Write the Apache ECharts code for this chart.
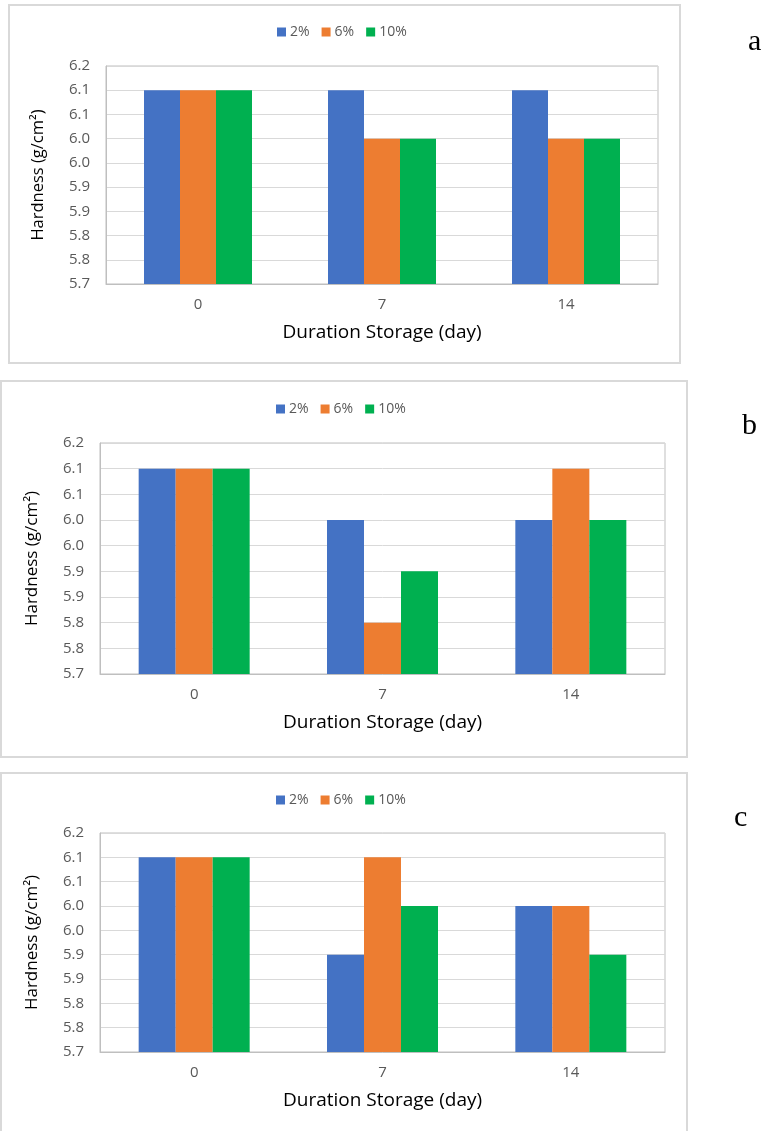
<!DOCTYPE html>
<html>
<head>
<meta charset="utf-8">
<script src="https://cdn.jsdelivr.net/npm/echarts@6/dist/echarts.min.js"></script>
<style>
html,body{margin:0;padding:0;background:#fff;}
#main{width:767px;height:1131px;}
</style>
</head>
<body>
<div id="main"></div>
<script>
// ---- data ----
const categories = ['0', '7', '14'];
const seriesNames = ['2%', '6%', '10%'];
const yTickLabels = ['5.7', '5.8', '5.8', '5.9', '5.9', '6.0', '6.0', '6.1', '6.1', '6.2'];
const yMin = 5.75, yMax = 6.2, yStep = 0.05;

const panelA_2 = [6.15, 6.15, 6.15];
const panelA_6 = [6.15, 6.05, 6.05];
const panelA_10 = [6.15, 6.05, 6.05];

const panelB_2 = [6.15, 6.05, 6.05];
const panelB_6 = [6.15, 5.85, 6.15];
const panelB_10 = [6.15, 5.95, 6.05];

const panelC_2 = [6.15, 5.95, 6.05];
const panelC_6 = [6.15, 6.15, 6.05];
const panelC_10 = [6.15, 6.05, 5.95];

const panelLetters = ['a', 'b', 'c'];
const xTitle = 'Duration Storage (day)';
const yTitle = 'Hardness (g/cm\u00B2)';

// ---- layout ----
const colors = ['#4472C4', '#ED7D31', '#00B050'];
const FONT = '"Open Sans", "Noto Sans", sans-serif';
const panels = [
  { data: [panelA_2, panelA_6, panelA_10], box: [9, 5, 671, 358], grid: { left: 106, top: 66, width: 552, height: 218 }, legend: { left: 272, top: 20 }, barW: 36, yNameSize: 16.5, letter: [748, 57] },
  { data: [panelB_2, panelB_6, panelB_10], box: [1, 381, 686, 376], grid: { left: 100, top: 443, width: 565, height: 231 }, legend: { left: 271, top: 397 }, barW: 37, yNameSize: 17, letter: [742, 441] },
  { data: [panelC_2, panelC_6, panelC_10], box: [1, 773, 686, 370], grid: { left: 100, top: 833, width: 565, height: 219 }, legend: { left: 271, top: 788 }, barW: 37, yNameSize: 17, letter: [734, 833] }
];

const grids = [], xAxes = [], yAxes = [], series = [], legends = [], graphics = [];
panels.forEach((p, i) => {
  grids.push(Object.assign({ show: true, borderColor: '#bfbfbf', borderWidth: 1, backgroundColor: 'transparent' }, p.grid));
  xAxes.push({
    type: 'category', gridIndex: i, data: categories,
    axisLine: { show: true, lineStyle: { color: '#bfbfbf', width: 1 } },
    axisTick: { show: false },
    axisLabel: { color: '#595959', fontSize: 15, fontFamily: FONT, margin: 13 },
    name: xTitle, nameLocation: 'middle', nameGap: 39,
    nameTextStyle: { color: '#000', fontSize: 19, fontFamily: FONT }
  });
  yAxes.push({
    type: 'value', gridIndex: i, min: yMin, max: yMax, interval: yStep,
    axisLine: { show: true, lineStyle: { color: '#bfbfbf' } },
    axisTick: { show: false },
    splitLine: { show: true, lineStyle: { color: '#d9d9d9', width: 1 } },
    axisLabel: {
      color: '#595959', fontSize: 15, fontFamily: FONT, margin: 16,
      formatter: v => yTickLabels[Math.round((v - yMin) / yStep)]
    },
    name: yTitle, nameLocation: 'middle', nameGap: 59, nameRotate: 90,
    nameTextStyle: { color: '#000', fontSize: p.yNameSize, fontFamily: FONT }
  });
  seriesNames.forEach((n, k) => {
    series.push({
      type: 'bar', name: n, xAxisIndex: i, yAxisIndex: i,
      data: p.data[k], barWidth: p.barW, barGap: '0%',
      itemStyle: { color: colors[k] }, silent: true
    });
  });
  legends.push({
    data: seriesNames, left: p.legend.left, top: p.legend.top, orient: 'horizontal',
    itemWidth: 9, itemHeight: 9, itemGap: 12, icon: 'rect',
    textStyle: { color: '#595959', fontSize: 14, fontFamily: FONT, padding: [0, 0, 0, -1] }
  });
  graphics.push({
    type: 'rect', shape: { x: p.box[0], y: p.box[1], width: p.box[2], height: p.box[3] },
    style: { fill: 'transparent', stroke: '#d9d9d9', lineWidth: 2 }, z: -1, silent: true
  });
  graphics.push({
    type: 'text', x: p.letter[0], y: p.letter[1],
    style: { text: panelLetters[i], font: '30px "Liberation Serif", "DejaVu Serif", serif', fill: '#000', textBaseline: 'alphabetic', verticalAlign: 'bottom' }
  });
});

const chart = echarts.init(document.getElementById('main'), null, { renderer: 'canvas' });
chart.setOption({
  animation: false,
  backgroundColor: '#fff',
  color: colors,
  grid: grids, xAxis: xAxes, yAxis: yAxes, series: series, legend: legends,
  graphic: graphics
});
</script>
</body>
</html>
